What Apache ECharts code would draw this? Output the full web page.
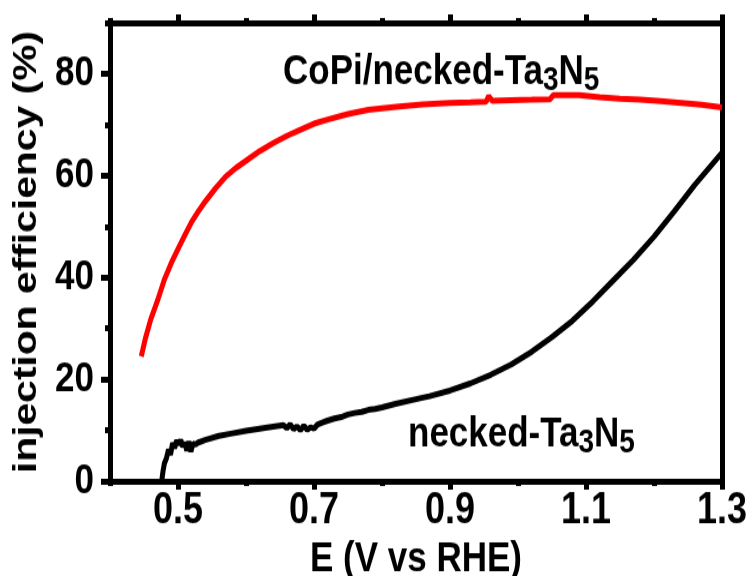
<!DOCTYPE html>
<html>
<head>
<meta charset="utf-8">
<script src="https://cdn.jsdelivr.net/npm/echarts@6/dist/echarts.min.js"></script>
<style>
  html, body { margin: 0; padding: 0; background: #fff; width: 749px; height: 576px; }
  /* the original figure is stretched vertically, so draw at 480px tall and stretch */
  #chart { width: 749px; height: 480px; transform: scaleY(1.2); transform-origin: 0 0; }
</style>
</head>
<body>
<div id="chart"></div>
<script>
// CoPi/necked-Ta3N5 (red)
var copiE = [0.446, 0.452, 0.46, 0.47, 0.48, 0.49, 0.5, 0.51, 0.52, 0.53, 0.54, 0.555, 0.57, 0.585, 0.6, 0.62, 0.64, 0.66, 0.68, 0.7, 0.72, 0.75, 0.78, 0.8, 0.83, 0.86, 0.9, 0.93, 0.953, 0.957, 0.962, 0.99, 1.02, 1.047, 1.052, 1.07, 1.09, 1.12, 1.15, 1.18, 1.21, 1.24, 1.27, 1.3];
var copiEff = [24.5, 28, 31.8, 35.5, 39.6, 42.8, 45.6, 48.3, 50.9, 53, 54.9, 57.5, 59.8, 61.5, 62.9, 64.8, 66.4, 67.8, 69, 70.2, 71, 72.1, 72.9, 73.2, 73.6, 74, 74.3, 74.4, 74.5, 75.6, 74.7, 74.8, 74.9, 75.0, 75.8, 75.8, 75.8, 75.4, 75.1, 74.9, 74.6, 74.3, 73.9, 73.4];

// necked-Ta3N5 (black)
var bareE = [0.476, 0.478, 0.48, 0.483, 0.486, 0.489, 0.492, 0.495, 0.498, 0.501, 0.504, 0.507, 0.51, 0.513, 0.516, 0.519, 0.522, 0.526, 0.53, 0.54, 0.56, 0.58, 0.6, 0.62, 0.64, 0.655, 0.66, 0.665, 0.67, 0.675, 0.68, 0.685, 0.69, 0.695, 0.7, 0.705, 0.71, 0.72, 0.73, 0.74, 0.75, 0.76, 0.77, 0.78, 0.79, 0.8, 0.82, 0.85, 0.87, 0.9, 0.93, 0.96, 0.99, 1.02, 1.05, 1.08, 1.11, 1.14, 1.17, 1.2, 1.23, 1.26, 1.3];
var bareEff = [0, 2, 3.5, 4.5, 6.2, 5.2, 7.5, 6.5, 8, 7.2, 8.1, 6.8, 7.6, 6, 7.8, 5.8, 7.4, 7.2, 7.6, 8.1, 8.9, 9.4, 9.9, 10.3, 10.7, 11, 10.4, 11.2, 10.2, 10.8, 10, 10.9, 10.1, 10.6, 10.3, 11.1, 11.4, 11.9, 12.3, 12.6, 13.1, 13.4, 13.6, 14, 14.2, 14.5, 15.2, 16.1, 16.7, 17.8, 19.2, 20.9, 22.9, 25.4, 28.3, 31.5, 35.3, 39.4, 43.5, 48, 53, 58.2, 64.5];

// ticks
var xMajor = [0.5, 0.7, 0.9, 1.1, 1.3];
var xMinor = [0.4, 0.6, 0.8, 1.0, 1.2];
var yMajor = [0, 20, 40, 60, 80];
var yMinor = [10, 30, 50, 70, 90];

var font = '"Liberation Sans", Arial, sans-serif';
var lineStyle = { color: '#000', width: 5 };

function pairs(xs, ys) {
  return xs.map(function (x, i) { return [x, ys[i]]; });
}

var subRich = {
  n: { fontFamily: font, fontWeight: 'bold', fontSize: 35, lineHeight: 36, verticalAlign: 'top' },
  s: { fontFamily: font, fontWeight: 'bold', fontSize: 28, lineHeight: 36, verticalAlign: 'top', padding: [10, 0, 0, 0] }
};

var myChart = echarts.init(document.getElementById('chart'));
myChart.setOption({
  animation: false,
  grid: { left: 110, right: 27, top: 19, bottom: 79, outerBoundsMode: 'none', containLabel: false },
  xAxis: [
    {
      type: 'value', position: 'bottom', min: 0.4, max: 1.3,
      name: 'E (V vs RHE)', nameLocation: 'middle', nameGap: 40,
      nameTextStyle: { fontFamily: font, fontWeight: 'bold', fontSize: 35, color: '#000' },
      axisLine: { onZero: false, lineStyle: lineStyle },
      axisTick: { customValues: xMajor, length: 7, lineStyle: lineStyle },
      axisLabel: { customValues: xMajor, margin: 7, fontFamily: font, fontWeight: 'bold', fontSize: 36, color: '#000' },
      splitLine: { show: false }
    },
    {
      type: 'value', position: 'bottom', min: 0.4, max: 1.3,
      axisLine: { show: false, onZero: false },
      axisTick: { customValues: xMinor, length: 4, lineStyle: lineStyle },
      axisLabel: { show: false },
      splitLine: { show: false }
    },
    {
      type: 'value', position: 'top', min: 0.4, max: 1.3,
      axisLine: { onZero: false, lineStyle: lineStyle },
      axisTick: { customValues: xMajor, length: 7, lineStyle: lineStyle },
      axisLabel: { show: false },
      splitLine: { show: false }
    },
    {
      type: 'value', position: 'top', min: 0.4, max: 1.3,
      axisLine: { show: false, onZero: false },
      axisTick: { customValues: xMinor, length: 4, lineStyle: lineStyle },
      axisLabel: { show: false },
      splitLine: { show: false }
    }
  ],
  yAxis: [
    {
      type: 'value', position: 'left', min: 0, max: 90,
      name: 'injection efficiency (%)', nameLocation: 'middle', nameGap: 66,
      nameTextStyle: { fontFamily: font, fontWeight: 'bold', fontSize: 34, color: '#000' },
      axisLine: { onZero: false, lineStyle: lineStyle },
      axisTick: { customValues: yMajor, length: 9, lineStyle: lineStyle },
      axisLabel: { customValues: yMajor, margin: 16, fontFamily: font, fontWeight: 'bold', fontSize: 35, color: '#000' },
      splitLine: { show: false }
    },
    {
      type: 'value', position: 'left', min: 0, max: 90,
      axisLine: { show: false, onZero: false },
      axisTick: { customValues: yMinor, length: 5, lineStyle: lineStyle },
      axisLabel: { show: false },
      splitLine: { show: false }
    },
    {
      type: 'value', position: 'right', min: 0, max: 90, interval: 10,
      axisLine: { onZero: false, lineStyle: lineStyle },
      axisTick: { length: 2, lineStyle: { color: '#000', width: 3 } },
      axisLabel: { show: false },
      splitLine: { show: false }
    }
  ],
  graphic: [
    {
      type: 'text', left: 283, top: 43,
      style: { text: '{n|CoPi/necked-Ta}{s|3}{n|N}{s|5}', fill: '#000', rich: subRich }
    },
    {
      type: 'text', left: 408, top: 345,
      style: { text: '{n|necked-Ta}{s|3}{n|N}{s|5}', fill: '#000', rich: subRich }
    }
  ],
  series: [
    {
      name: 'CoPi/necked-Ta3N5', type: 'line', xAxisIndex: 0, yAxisIndex: 0,
      data: pairs(copiE, copiEff), showSymbol: false,
      lineStyle: { color: '#ff0000', width: 5 }, itemStyle: { color: '#ff0000' }
    },
    {
      name: 'necked-Ta3N5', type: 'line', xAxisIndex: 0, yAxisIndex: 0,
      data: pairs(bareE, bareEff), showSymbol: false,
      lineStyle: { color: '#000', width: 5 }, itemStyle: { color: '#000' }
    }
  ]
});
</script>
</body>
</html>
